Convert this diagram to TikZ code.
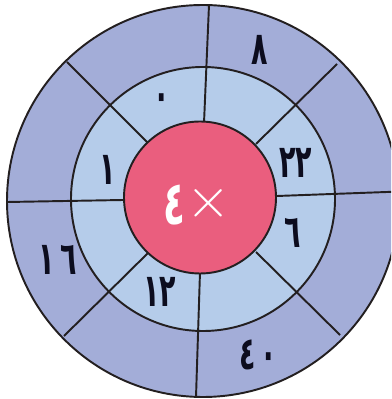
\documentclass[tikz,border=0pt]{standalone}
\usepackage{fontspec}
\newfontfamily\arabicfont[Script=Arabic]{DejaVu Sans}
\usepackage{tikz}
\usetikzlibrary{calc}

\definecolor{outerring}{RGB}{163,173,216}
\definecolor{innerring}{RGB}{181,204,234}
\definecolor{hub}{RGB}{234,94,126}
\definecolor{edge}{RGB}{35,31,32}
\definecolor{ink}{RGB}{12,12,30}

\newcommand{\tallnum}[1]{\scalebox{0.85}[1.45]{#1}}

\tikzset{
    ring/.style={draw=edge, line width=1.1pt},
    spoke/.style={edge, line width=1.1pt},
    num/.style={font=\arabicfont\bfseries\fontsize{18}{20}\selectfont, text=ink, inner sep=0pt},
    hubtext/.style={font=\arabicfont\bfseries\fontsize{24}{28}\selectfont, text=white, inner sep=0pt}
}

\begin{document}
\begin{tikzpicture}
        \useasboundingbox (-4.06,-3.96) rectangle (3.76,4.02);
        \clip (-4.06,-3.96) rectangle (3.76,4.02);

        \coordinate (O) at (0, 0);
        \coordinate (M) at (0, 0.04);
        \coordinate (I) at (-0.06, 0.07);

        % spoke ends: a = on the hub, b = on the rim
        \coordinate (Na) at (0.02, 1.56);   \coordinate (Nb) at (0.12, 3.92);
        \coordinate (NEa) at (1.06, 1.14);  \coordinate (NEb) at (2.68, 2.74);
        \coordinate (Ea) at (1.48, 0.10);   \coordinate (Eb) at (3.95, 0.19);
        \coordinate (SEa) at (1.06, -1.02); \coordinate (SEb) at (2.74, -2.68);
        \coordinate (Sa) at (-0.06, -1.42); \coordinate (Sb) at (-0.14, -3.92);
        \coordinate (SWa) at (-1.10, -1.04);\coordinate (SWb) at (-2.78, -2.70);
        \coordinate (Wa) at (-1.60, 0.02);  \coordinate (Wb) at (-3.91, -0.02);
        \coordinate (NWa) at (-1.10, 1.16); \coordinate (NWb) at (-2.72, 2.78);

        \fill[outerring] (O) circle (3.92);
        \fill[innerring] (M) circle (2.64);

        \foreach \s in {N, NE, E, SE, S, SW, W, NW}
        \draw[spoke] (\s a) -- (\s b);

        \draw[ring] (O) circle (3.92);
        \draw[ring] (M) circle (2.64);
        \draw[ring, fill=hub] (I) circle (1.52);

        \node[num] (n8) at (1.14, 3.02) {\tallnum{٨}};
        \node[num] (n0) at (-0.82, 1.98) {\tallnum{٠}};
        \node[num] (n1) at (-1.90, 0.62) {\tallnum{١}};
        \node[num] (n22) at (1.86, 0.76) {\tallnum{٢٢}};
        \node[num] (n6) at (1.80, -0.64) {\tallnum{٦}};
        \node[num] (n12) at (-0.86, -1.82) {\tallnum{١٢}};
        \node[num] (n16) at (-2.90, -1.18) {\tallnum{١\hspace{4pt}٦}};
        \node[num] (n40) at (1.10, -3.08) {\tallnum{٤\hspace{3pt}٠}};

        \node[hubtext] (four) at (-0.58, -0.08) {\tallnum{٤}};
        \node[hubtext] (times) at (0.12, -0.04) {\scalebox{1.3}{$\times$}};
    \end{tikzpicture}
\end{document}
